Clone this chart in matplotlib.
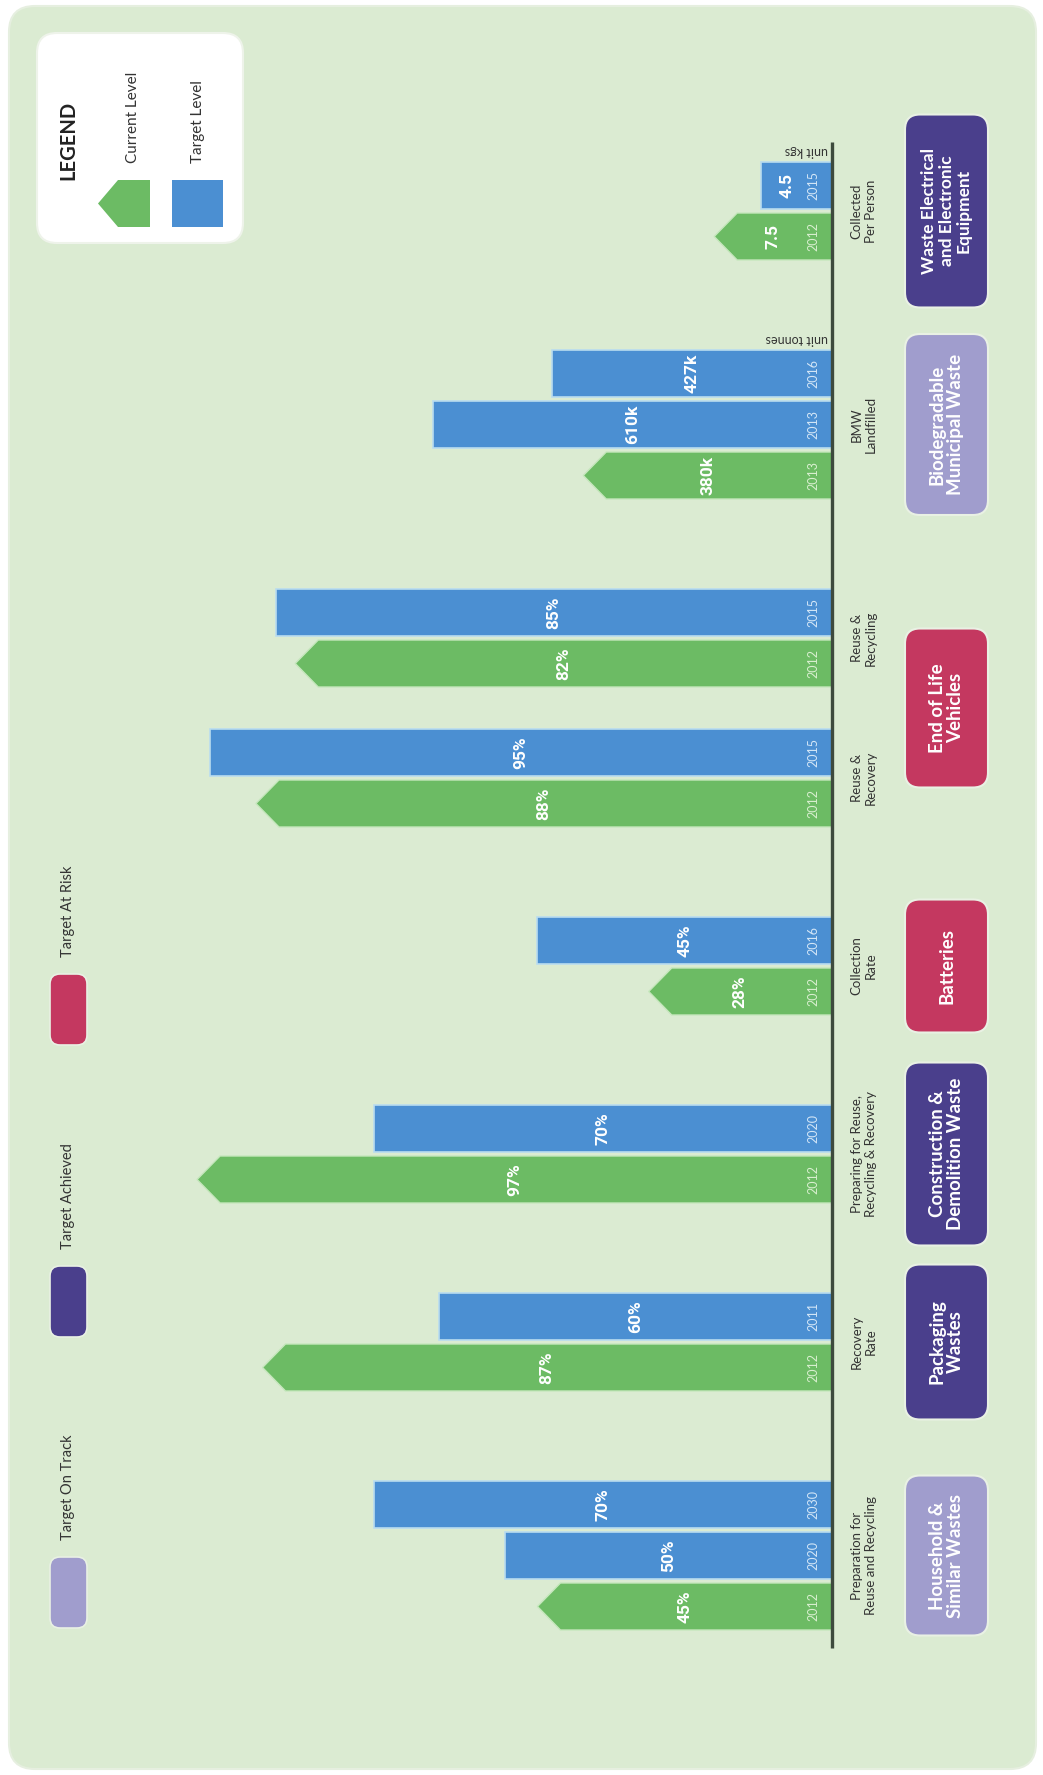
import matplotlib
matplotlib.use('Agg')
import matplotlib.pyplot as plt
from matplotlib.patches import FancyBboxPatch, Polygon, Rectangle

# ---------------- DATA ----------------
categories = ["Waste Electrical\nand Electronic\nEquipment",
              "Biodegradable\nMunicipal Waste",
              "End of Life\nVehicles",
              "Batteries",
              "Construction &\nDemolition Waste",
              "Packaging\nWastes",
              "Household &\nSimilar Wastes"]
category_status = ["achieved", "on_track", "at_risk", "at_risk",
                   "achieved", "achieved", "on_track"]

metrics = ["Collected\nPer Person", "BMW\nLandfilled", "Reuse &\nRecycling",
           "Reuse &\nRecovery", "Collection\nRate",
           "Preparing for Reuse,\nRecycling & Recovery", "Recovery\nRate",
           "Preparation for\nReuse and Recycling"]
metric_category = [0, 1, 2, 2, 3, 4, 5, 6]
metric_unit = ["unit kgs", "unit tonnes", "", "", "", "", "", ""]
metric_scale = [2.4, 0.1, 1, 1, 1, 1, 1, 1]   # display scale per metric

bar_metric = [0, 0, 1, 1, 1, 2, 2, 3, 3, 4, 4, 5, 5, 6, 6, 7, 7, 7]
bar_kind = ["target", "current", "target", "target", "current",
            "target", "current", "target", "current", "target", "current",
            "target", "current", "target", "current",
            "target", "target", "current"]
bar_year = ["2015", "2012", "2016", "2013", "2013", "2015", "2012", "2015", "2012",
            "2016", "2012", "2020", "2012", "2011", "2012", "2030", "2020", "2012"]
bar_value = [4.5, 7.5, 427, 610, 380, 85, 82, 95, 88, 45, 28, 70, 97, 60, 87, 70, 50, 45]
bar_label = ["4.5", "7.5", "427k", "610k", "380k", "85%", "82%", "95%", "88%",
             "45%", "28%", "70%", "97%", "60%", "87%", "70%", "50%", "45%"]

status_names = {"on_track": "Target On Track", "achieved": "Target Achieved",
                "at_risk": "Target At Risk"}
legend_items = ["Current Level", "Target Level"]

# ---------------- STYLE / LAYOUT ----------------
W, H = 1043, 1775
PANEL = '#dbebd2'
GREEN = '#6cbb64'
BLUE = '#4b8fd2'
STATUS_COL = {"on_track": '#a09dcd', "achieved": '#4a3f8c', "at_risk": '#c43860'}
TXT = '#333333'
PPU = 6.546          # pixels per display unit
BASE_X = 832         # pixel x of the baseline
BAR_PITCH, BAR_H = 51, 47
CAT_GAP, MET_GAP, Y0 = 86, 38, 160
HEAD = 23 / PPU
box_heights = [193, 181, 159, 133, 183, 155, 160]

fig = plt.figure(figsize=(W / 100, H / 100), dpi=100)
fig.patch.set_facecolor('white')

px = fig.add_axes([0, 0, 1, 1])
px.set_xlim(0, W); px.set_ylim(H, 0); px.axis('off')

ax = fig.add_axes([0, 0, 1, 1])
ax.set_xlim(BASE_X / PPU, -(W - BASE_X) / PPU); ax.set_ylim(H, 0)
ax.axis('off'); ax.patch.set_alpha(0)

# background panel
px.add_patch(FancyBboxPatch((9, 6), 1027, 1763, boxstyle='round,pad=0,rounding_size=26',
                            fc=PANEL, ec='#e6efe0', lw=1.5, zorder=0))

# ---- compute bar positions ----
bar_y = [0.0] * len(bar_value)
metric_span = []
y = Y0
for m in range(len(metrics)):
    if m > 0:
        y += CAT_GAP if metric_category[m] != metric_category[m - 1] else MET_GAP
    idx = [i for i, bm in enumerate(bar_metric) if bm == m]
    top = y
    for k, i in enumerate(idx):
        bar_y[i] = y + (k + 0.5) * BAR_PITCH
    y += len(idx) * BAR_PITCH
    metric_span.append((top, y))

value_font = ['Roboto']
# ---- bars ----
for i, v in enumerate(bar_value):
    m = bar_metric[i]
    d = v * metric_scale[m]
    yc = bar_y[i]
    if bar_kind[i] == "target":
        ax.barh(yc, d, height=BAR_H, left=0, color=BLUE, edgecolor='#b9dcef', lw=1.2, zorder=3)
        ycol = '#d3e6f7'
    else:
        pts = [(0, yc - BAR_H / 2), (d - HEAD, yc - BAR_H / 2), (d, yc),
               (d - HEAD, yc + BAR_H / 2), (0, yc + BAR_H / 2)]
        ax.add_patch(Polygon(pts, closed=True, fc=GREEN, ec='#c6e7bd', lw=1.0, zorder=3))
        ycol = '#d8efcf'
    ax.text(19 / PPU, yc, bar_year[i], rotation=90, ha='center', va='center',
            color=ycol, fontsize=9, family='Lato', zorder=5)
    ax.text(max(d / 2, 45 / PPU), yc, bar_label[i], rotation=90, ha='center', va='center',
            color='white', fontsize=12.5, weight='bold', family=value_font, zorder=5)

# baseline
ax.plot([0, 0], [Y0 - 18, metric_span[-1][1] + 16], color='#3d4a3d', lw=2.4, zorder=4,
        solid_capstyle='butt')

# metric labels & units
for m, name in enumerate(metrics):
    t, b = metric_span[m]
    px.text(864, (t + b) / 2, name, rotation=90, ha='center', va='center',
            multialignment='center', fontsize=9.5, color=TXT, family='Lato', linespacing=1.25)
    if metric_unit[m]:
        px.text(BASE_X - 4, t - 3, metric_unit[m], rotation=180, ha='right', va='bottom',
                fontsize=9, color=TXT, family='Lato')

# category boxes
for c, name in enumerate(categories):
    spans = [metric_span[m] for m in range(len(metrics)) if metric_category[m] == c]
    yc = (spans[0][0] + spans[-1][1]) / 2
    h = box_heights[c]
    px.add_patch(FancyBboxPatch((905, yc - h / 2), 83, h,
                                boxstyle='round,pad=0,rounding_size=15',
                                fc=STATUS_COL[category_status[c]], ec='#e9f1e4', lw=1.5, zorder=2))
    fs = 12.5 if name.count('\n') >= 2 else 13.5
    px.text(946.5, yc, name, rotation=90, ha='center', va='center', multialignment='center',
            color='white', fontsize=fs, weight='bold', family='Lato', linespacing=1.1, zorder=3)

# status legend (left)
for key, top in [("at_risk", 974), ("achieved", 1266), ("on_track", 1557)]:
    px.add_patch(FancyBboxPatch((50, top), 37, 71, boxstyle='round,pad=0,rounding_size=10',
                                fc=STATUS_COL[key], ec='#e9f1e4', lw=1.2, zorder=2))
    px.text(68, top - 17, status_names[key], rotation=90, ha='center', va='bottom',
            fontsize=10.5, color=TXT, family='Lato')

# legend box (top-left)
px.add_patch(FancyBboxPatch((37, 33), 206, 210, boxstyle='round,pad=0,rounding_size=20',
                            fc='white', ec='#eef3ea', lw=1.5, zorder=2))
px.text(68, 180, "LEGEND", rotation=90, ha='center', va='bottom', fontsize=14.5,
        weight='bold', color='#222222', family='Lato', zorder=3)
px.add_patch(Polygon([(150, 180), (118, 180), (98, 203.5), (118, 227), (150, 227)],
                     closed=True, fc=GREEN, ec='none', zorder=3))
px.add_patch(Rectangle((172, 180), 51, 47, fc=BLUE, ec='none', zorder=3))
px.text(133, 163, legend_items[0], rotation=90, ha='center', va='bottom', fontsize=11,
        color=TXT, family='Lato', zorder=3)
px.text(198, 163, legend_items[1], rotation=90, ha='center', va='bottom', fontsize=11,
        color=TXT, family='Lato', zorder=3)

fig.savefig('out.png', dpi=100, facecolor='white')
